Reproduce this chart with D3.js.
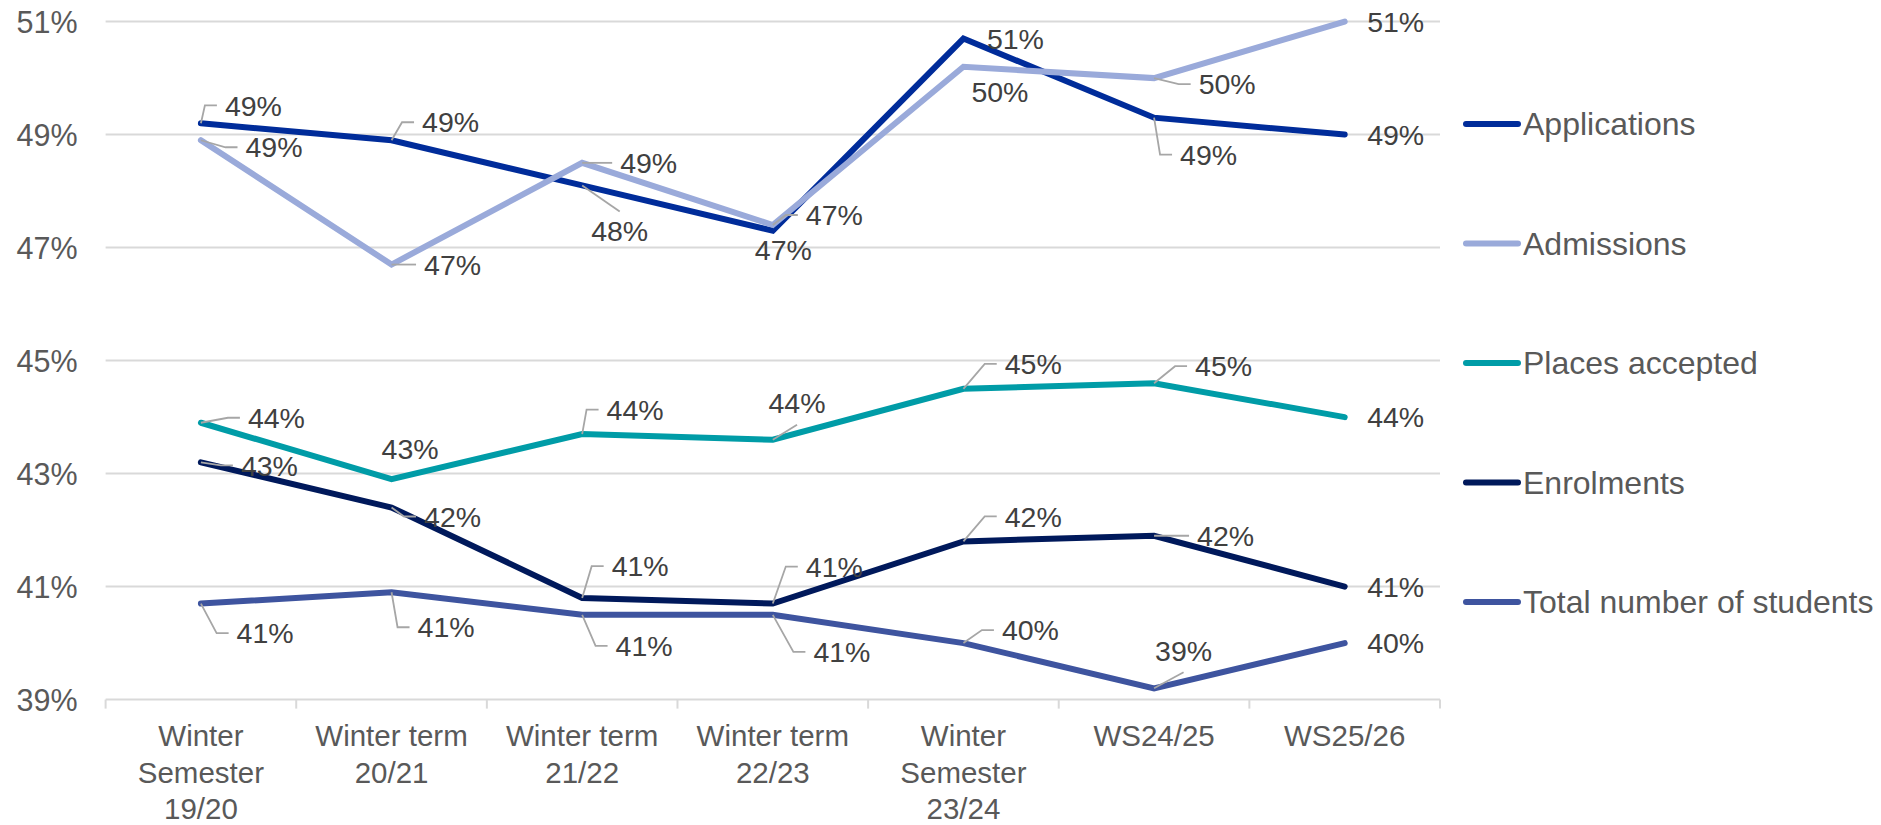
<!DOCTYPE html>
<html>
<head>
<meta charset="utf-8">
<script src="https://cdn.jsdelivr.net/npm/d3@7"></script>
<style>
  html, body { margin: 0; padding: 0; background: #ffffff; }
  svg { display: block; }
  text { font-family: "Liberation Sans", Arial, sans-serif; }
</style>
</head>
<body>
<svg id="chart" width="1881" height="825"></svg>
<script>
// Categories (line breaks mark the wrapped axis labels)
const categories = [
  "Winter\nSemester\n19/20",
  "Winter term\n20/21",
  "Winter term\n21/22",
  "Winter term\n22/23",
  "Winter\nSemester\n23/24",
  "WS24/25",
  "WS25/26"
];

// Share of women, in percent
const applications   = [49.2, 48.9, 48.1, 47.3, 50.7, 49.3, 49.0];
const admissions     = [48.9, 46.7, 48.5, 47.4, 50.2, 50.0, 51.0];
const placesAccepted = [43.9, 42.9, 43.7, 43.6, 44.5, 44.6, 44.0];
const enrolments     = [43.2, 42.4, 40.8, 40.7, 41.8, 41.9, 41.0];
const totalStudents  = [40.7, 40.9, 40.5, 40.5, 40.0, 39.2, 40.0];

const seriesNames = ["Applications", "Admissions", "Places accepted", "Enrolments", "Total number of students"];
const yTicks = [39, 41, 43, 45, 47, 49, 51];

const series = [
  { name: seriesNames[0], values: applications,   color: "#002C9A" },
  { name: seriesNames[1], values: admissions,     color: "#9AAADA" },
  { name: seriesNames[2], values: placesAccepted, color: "#009CA7" },
  { name: seriesNames[3], values: enrolments,     color: "#00195B" },
  { name: seriesNames[4], values: totalStudents,  color: "#3E549F" }
];

// Data label placement: [dx, dy, leader] relative to the point.
// dx = left edge of the label, dy = vertical centre of the label.
const labelPlacement = [
  [[24, -18, "side"], [30.5, -18, "side"], [9, 45, "top"], [-18, 19, "none"], [23.5, 0, "none"], [26, 37, "side"], [22.5, 0, "none"]],
  [[44.6, 7, "side"], [32.5, 0, "side"], [38, 0, "side"], [33, -10, "side"], [8, 25, "none"], [44.6, 6, "side"], [22.5, 0, "none"]],
  [[47, -5, "side"], [-10, -30, "none"], [24.4, -24.4, "side"], [-4.3, -37, "bottom"], [41.3, -25, "side"], [41, -17, "side"], [22.5, 0, "none"]],
  [[40, 3, "side"], [32.5, 9, "side"], [29.5, -31.7, "side"], [33, -37, "side"], [41.3, -25, "side"], [43, 0, "side"], [22.5, 0, "none"]],
  [[35.7, 29.5, "side"], [26, 35, "side"], [33.4, 31, "side"], [40.6, 37, "side"], [38.5, -13, "side"], [1, -38, "bottom"], [22.5, 0, "none"]]
];

const svg = d3.select("#chart");
const W = 1881, H = 825;
const plot = { left: 105.6, right: 1440, top: 21.6, bottom: 699.6 };

const x = d3.scaleBand().domain(categories).range([plot.left, plot.right]).padding(0);
const y = d3.scaleLinear().domain([39, 51]).range([plot.bottom, plot.top]);
const cx = c => x(c) + x.bandwidth() / 2;

svg.append("rect").attr("width", W).attr("height", H).attr("fill", "#ffffff");

// Horizontal gridlines
svg.append("g")
  .selectAll("line")
  .data(yTicks.filter(t => t !== 39))
  .join("line")
  .attr("x1", plot.left).attr("x2", plot.right)
  .attr("y1", d => y(d)).attr("y2", d => y(d))
  .attr("stroke", "#D9D9D9").attr("stroke-width", 2);

// Y axis labels
const yAxis = d3.axisLeft(y).tickValues(yTicks).tickFormat(d => d + "%").tickSize(0).tickPadding(0);
const gy = svg.append("g").attr("transform", `translate(${plot.left - 28},0)`).call(yAxis);
gy.select(".domain").remove();
gy.selectAll("text")
  .attr("font-family", '"Liberation Sans", Arial, sans-serif')
  .attr("font-size", 30.5)
  .attr("fill", "#595959")
  .attr("dy", null)
  .attr("dominant-baseline", "central");

// X axis with category boundary ticks
const gx = svg.append("g");
gx.append("line")
  .attr("x1", plot.left).attr("x2", plot.right)
  .attr("y1", plot.bottom).attr("y2", plot.bottom)
  .attr("stroke", "#D9D9D9").attr("stroke-width", 2);
const bounds = categories.map(c => x(c)).concat([plot.right]);
gx.selectAll("line.tick")
  .data(bounds)
  .join("line")
  .attr("class", "tick")
  .attr("x1", d => d).attr("x2", d => d)
  .attr("y1", plot.bottom).attr("y2", plot.bottom + 9)
  .attr("stroke", "#D9D9D9").attr("stroke-width", 2);

const catText = gx.selectAll("text.cat")
  .data(categories)
  .join("text")
  .attr("class", "cat")
  .attr("text-anchor", "middle")
  .attr("font-size", 29.5)
  .attr("fill", "#595959")
  .attr("x", d => cx(d))
  .attr("y", 746);
catText.each(function(d) {
  const t = d3.select(this);
  d.split("\n").forEach((line, i) => {
    t.append("tspan").attr("x", cx(d)).attr("dy", i === 0 ? 0 : 36.5).text(line);
  });
});

// Series lines
const lineGen = d3.line().x((v, i) => cx(categories[i])).y(v => y(v));
svg.append("g")
  .selectAll("path")
  .data(series)
  .join("path")
  .attr("d", s => lineGen(s.values))
  .attr("fill", "none")
  .attr("stroke", s => s.color)
  .attr("stroke-width", 6)
  .attr("stroke-linecap", "round")
  .attr("stroke-linejoin", "miter");

// Data labels with leader lines
const labelSize = 28.5;
const fmt = v => Math.round(v) + "%";
const gl = svg.append("g");
series.forEach((s, si) => {
  s.values.forEach((v, i) => {
    const px = cx(categories[i]), py = y(v);
    const [dx, dy, leader] = labelPlacement[si][i];
    const lx = px + dx, ly = py + dy;
    const txt = gl.append("text")
      .attr("x", lx).attr("y", ly + labelSize * 0.358)
      .attr("font-size", labelSize)
      .attr("fill", "#404040")
      .text(fmt(v));
    const w = txt.node().getComputedTextLength();
    let pts = null;
    if (leader === "side") {
      pts = [[px, py], [lx - 20, ly], [lx - 8, ly]];
    } else if (leader === "top") {
      pts = [[px, py], [lx + w / 2, ly - 19]];
    } else if (leader === "bottom") {
      pts = [[px, py], [lx + w / 2, ly + 22]];
    }
    if (pts) {
      gl.insert("path", "text")
        .attr("d", d3.line()(pts))
        .attr("fill", "none")
        .attr("stroke", "#A6A6A6")
        .attr("stroke-width", 1.8);
    }
  });
});

// Legend
const legend = svg.append("g");
const legendY = d3.scalePoint().domain(seriesNames).range([124, 602]);
series.forEach(s => {
  const ly = legendY(s.name);
  legend.append("line")
    .attr("x1", 1466).attr("x2", 1518)
    .attr("y1", ly).attr("y2", ly)
    .attr("stroke", s.color).attr("stroke-width", 6)
    .attr("stroke-linecap", "round");
  legend.append("text")
    .attr("x", 1523).attr("y", ly + 32 * 0.358)
    .attr("font-size", 32)
    .attr("fill", "#595959")
    .text(s.name);
});
</script>
</body>
</html>
